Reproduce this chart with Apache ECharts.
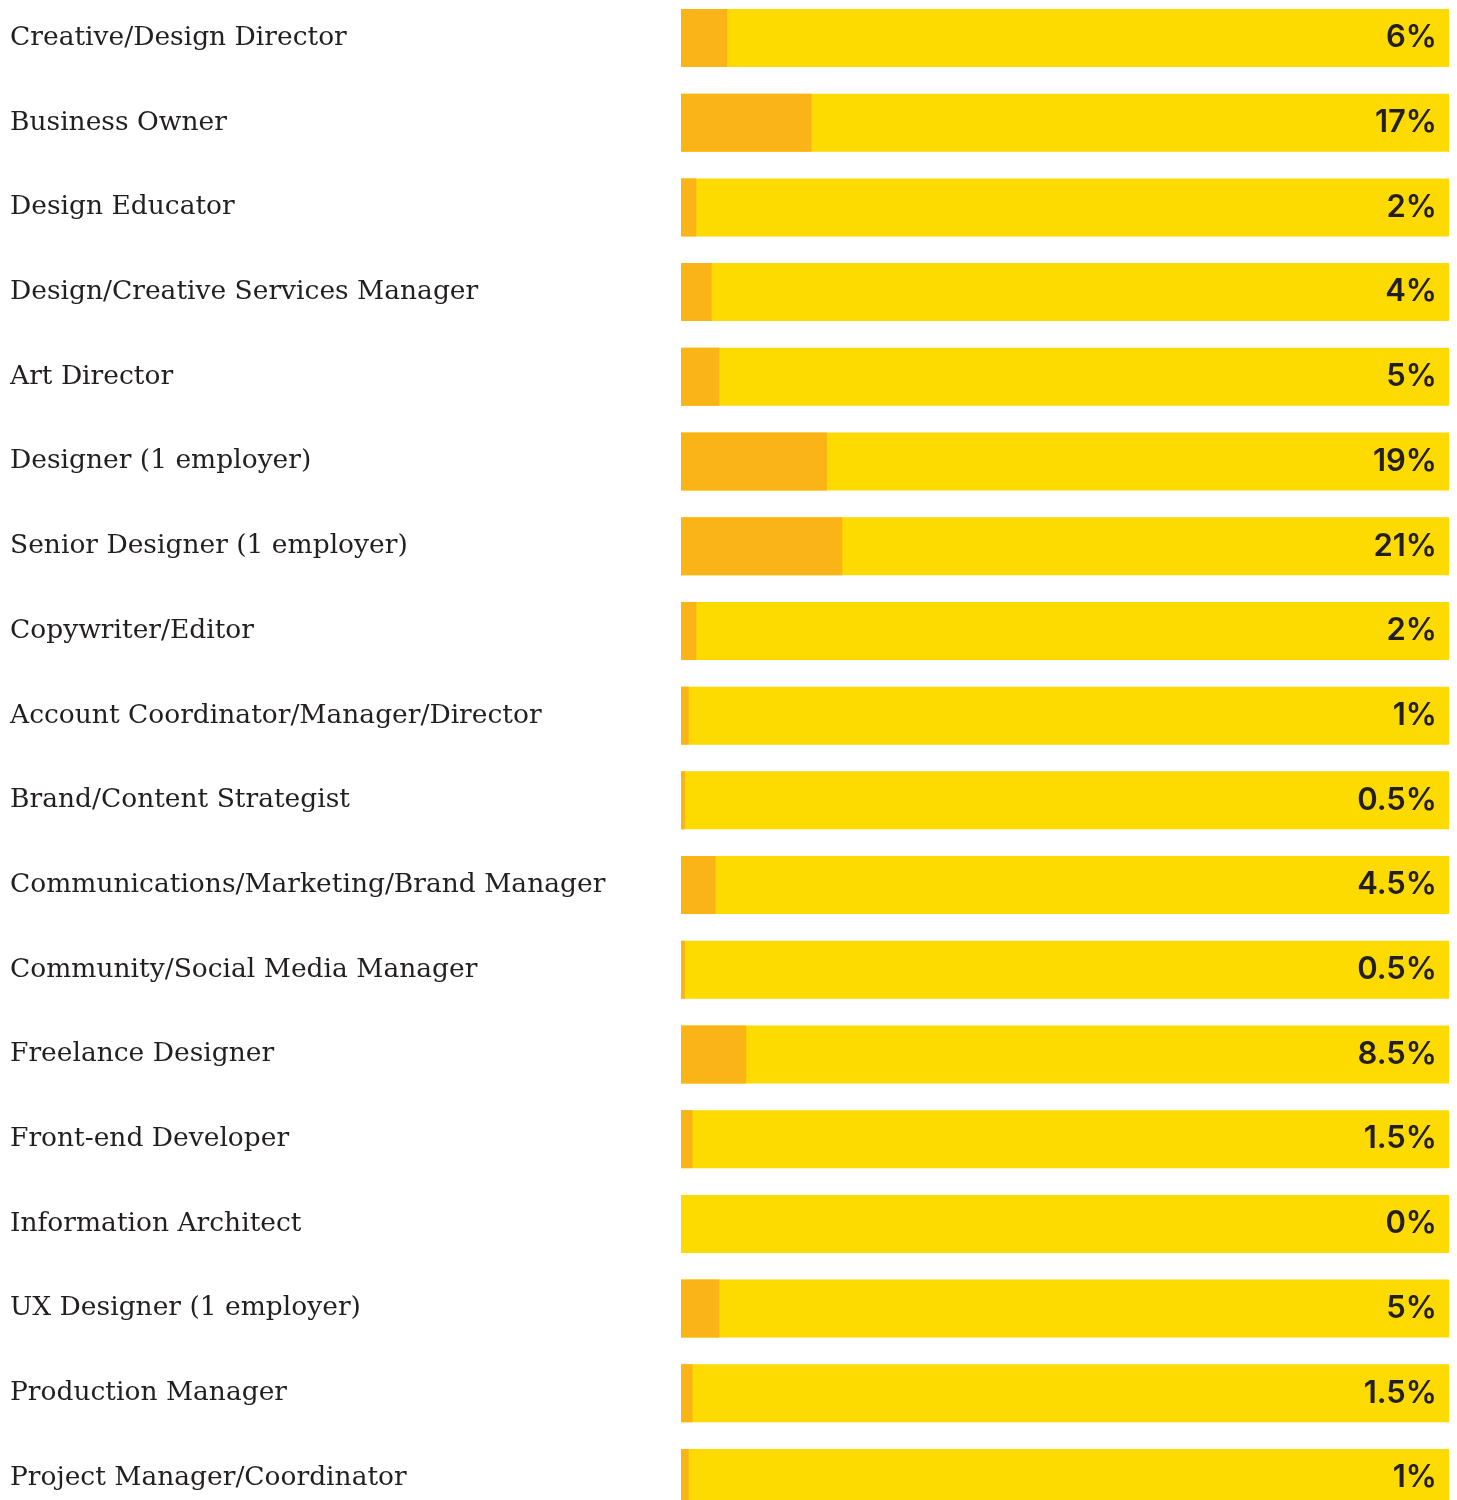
<!DOCTYPE html>
<html>
<head>
<meta charset="utf-8">
<script src="https://cdn.jsdelivr.net/npm/echarts@6/dist/echarts.min.js"></script>
<style>
  html, body { margin: 0; padding: 0; background: #ffffff; overflow: hidden; }
  body { position: relative; width: 1457px; height: 1500px; }
  /* the last row runs past the bottom edge and the first band starts just above the top */
  #chart { position: absolute; left: 0; top: -5px; width: 1457px; height: 1530px; }
</style>
</head>
<body>
<div id="chart"></div>
<script>
// Job titles, top to bottom
const roles = [
  'Creative/Design Director',
  'Business Owner',
  'Design Educator',
  'Design/Creative Services Manager',
  'Art Director',
  'Designer (1 employer)',
  'Senior Designer (1 employer)',
  'Copywriter/Editor',
  'Account Coordinator/Manager/Director',
  'Brand/Content Strategist',
  'Communications/Marketing/Brand Manager',
  'Community/Social Media Manager',
  'Freelance Designer',
  'Front-end Developer',
  'Information Architect',
  'UX Designer (1 employer)',
  'Production Manager',
  'Project Manager/Coordinator'
];

// Share of respondents per role, in percent
const shares = [6, 17, 2, 4, 5, 19, 21, 2, 1, 0.5, 4.5, 0.5, 8.5, 1.5, 0, 5, 1.5, 1];

// Every row spans the whole 0–100% scale
const fullScale = [100, 100, 100, 100, 100, 100, 100, 100, 100, 100, 100, 100, 100, 100, 100, 100, 100, 100];

const chart = echarts.init(document.getElementById('chart'), null, { renderer: 'canvas' });

chart.setOption({
  animation: false,
  backgroundColor: '#ffffff',
  grid: { left: 681, right: 8, top: 0.65, height: 1524.7, containLabel: false },
  xAxis: {
    type: 'value',
    min: 0,
    max: 100,
    show: false
  },
  yAxis: {
    type: 'category',
    inverse: true,
    data: roles,
    axisLine: { show: false },
    axisTick: { show: false },
    splitLine: { show: false },
    axisLabel: {
      align: 'left',
      margin: 671,
      color: '#231f20',
      fontFamily: '"DejaVu Serif", serif',
      fontSize: 26.5,
      padding: [4, 0, 0, 0]
    }
  },
  series: [
    {
      name: 'Scale',
      type: 'bar',
      data: fullScale,
      barWidth: 58,
      barGap: '-100%',
      itemStyle: { color: '#fdda00' },
      label: {
        show: true,
        position: 'insideRight',
        distance: 12,
        color: '#231f20',
        fontFamily: 'Inter, sans-serif',
        fontWeight: 600,
        fontSize: 31,
        padding: [3, 0, 0, 0],
        formatter: p => shares[p.dataIndex] + '%'
      },
      silent: true,
      z: 1
    },
    {
      name: 'Share',
      type: 'bar',
      data: shares,
      barWidth: 58,
      barGap: '-100%',
      itemStyle: { color: '#fbb417' },
      z: 2
    }
  ]
});
</script>
</body>
</html>
